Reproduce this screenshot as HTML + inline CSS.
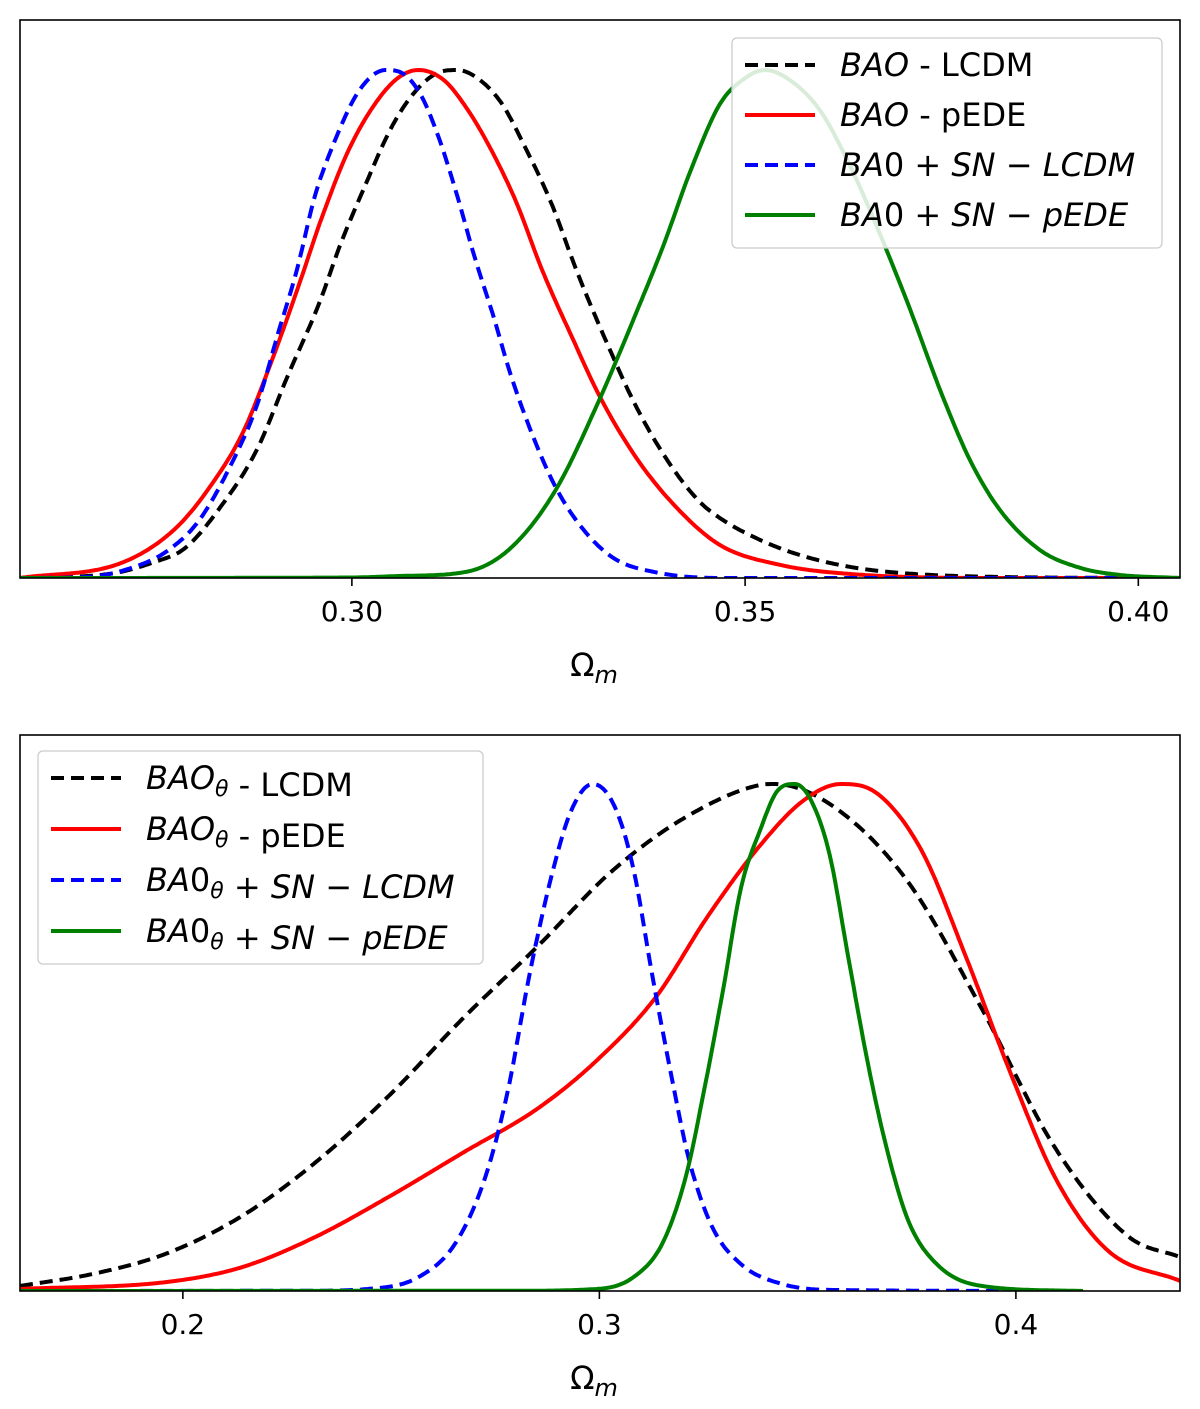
<!DOCTYPE html>
<html><head><meta charset="utf-8"><style>
body{margin:0;background:#fff;}
svg{display:block;font-family:"DejaVu Sans","Liberation Sans",sans-serif;}
</style></head><body>
<svg id="chart" width="1200" height="1409" viewBox="0 0 1200 1409"></svg>
<script>
// ---------- TOP PANEL DATA ----------
const topTicks = [0.30, 0.35, 0.40];
const topTickLabels = ["0.30", "0.35", "0.40"];
const topBlackX = [0.2578,0.2691,0.2748,0.2788,0.2833,0.2879,0.2919,0.2958,0.2986,0.3015,0.3050,0.3078,0.3106,0.3134,0.3163,0.3191,0.3219,0.3253,0.3287,0.3327,0.3361,0.3401,0.3441,0.3468,0.3519,0.3570,0.3633,0.3697,0.3824,0.4053];
const topBlackY = [0,0.008,0.031,0.059,0.140,0.252,0.400,0.539,0.659,0.766,0.886,0.953,0.992,1.0,0.980,0.933,0.852,0.740,0.600,0.453,0.339,0.232,0.152,0.118,0.075,0.045,0.022,0.010,0.002,0];
const topRedX = [0.2578,0.2709,0.2776,0.2822,0.2861,0.2896,0.2930,0.2964,0.2997,0.3032,0.3060,0.3085,0.3117,0.3145,0.3174,0.3209,0.3242,0.3282,0.3315,0.3361,0.3412,0.3468,0.3544,0.3633,0.3824,0.4053];
const topRedY = [0,0.031,0.098,0.185,0.285,0.419,0.565,0.719,0.846,0.939,0.986,1.0,0.980,0.927,0.852,0.740,0.606,0.467,0.358,0.238,0.140,0.065,0.026,0.008,0,0];
const topBlueX = [0.2578,0.2663,0.2720,0.2765,0.2805,0.2845,0.2879,0.2907,0.2930,0.2953,0.2976,0.3009,0.3043,0.3066,0.3089,0.3112,0.3134,0.3156,0.3179,0.3202,0.3230,0.3259,0.3293,0.3333,0.3384,0.3468,0.4053];
const topBlueY = [0,0.002,0.020,0.053,0.112,0.219,0.339,0.486,0.606,0.752,0.852,0.959,1.0,0.992,0.947,0.860,0.752,0.632,0.520,0.400,0.280,0.179,0.098,0.039,0.012,0,0];
const topGreenX = [0.2578,0.3000,0.3061,0.3145,0.3202,0.3259,0.3315,0.3361,0.3396,0.3430,0.3468,0.3500,0.3525,0.3557,0.3595,0.3633,0.3672,0.3710,0.3748,0.3786,0.3824,0.3875,0.3926,0.3977,0.4053];
const topGreenY = [0,0.001,0.004,0.012,0.059,0.173,0.352,0.520,0.654,0.799,0.933,0.984,1.0,0.980,0.921,0.813,0.675,0.528,0.370,0.232,0.134,0.055,0.020,0.006,0];

// ---------- BOTTOM PANEL DATA ----------
const botTicks = [0.2, 0.3, 0.4];
const botTickLabels = ["0.2", "0.3", "0.4"];
const botBlackX = [0.1609,0.1786,0.1964,0.2142,0.2319,0.2497,0.2675,0.2852,0.3030,0.3208,0.3385,0.3419,0.3563,0.3741,0.3916,0.4096,0.4271,0.4394];
const botBlackY = [0.010,0.034,0.075,0.148,0.254,0.387,0.540,0.680,0.828,0.935,0.998,1.0,0.955,0.807,0.560,0.280,0.107,0.067];
const botRedX = [0.1609,0.1964,0.2142,0.2319,0.2497,0.2675,0.2852,0.2994,0.3136,0.3261,0.3385,0.3491,0.3580,0.3669,0.3774,0.3882,0.3988,0.4096,0.4219,0.4394];
const botRedY = [0.004,0.018,0.047,0.107,0.187,0.274,0.360,0.455,0.580,0.740,0.878,0.968,1.0,0.980,0.868,0.655,0.428,0.221,0.081,0.020];
const botBlueX = [0.1609,0.2300,0.2444,0.2567,0.2655,0.2727,0.2780,0.2833,0.2888,0.2932,0.2984,0.3037,0.3083,0.3126,0.3172,0.3215,0.3270,0.3340,0.3438,0.3563,0.4161];
const botBlueY = [0,0.0005,0.004,0.028,0.095,0.227,0.394,0.627,0.828,0.947,1.0,0.955,0.828,0.627,0.428,0.260,0.128,0.053,0.014,0.002,0];
const botGreenX = [0.1609,0.2800,0.2994,0.3083,0.3152,0.3208,0.3251,0.3297,0.3340,0.3385,0.3429,0.3469,0.3508,0.3553,0.3597,0.3642,0.3686,0.3741,0.3810,0.3918,0.4161];
const botGreenY = [0,0.0005,0.004,0.028,0.095,0.227,0.394,0.594,0.795,0.907,0.988,1.0,0.968,0.860,0.661,0.460,0.294,0.140,0.053,0.010,0];

const NS = "http://www.w3.org/2000/svg";
const svg = document.getElementById('chart');
function mk(tag, attrs, parent){
  const e = document.createElementNS(NS, tag);
  for (const k in attrs) e.setAttribute(k, attrs[k]);
  (parent||svg).appendChild(e);
  return e;
}
function monoPath(xs, ys, sx, sy){
  const n = xs.length, d = [], m = [];
  for (let i=0;i<n-1;i++) d.push((ys[i+1]-ys[i])/(xs[i+1]-xs[i]));
  m[0]=d[0]; m[n-1]=d[n-2];
  for (let i=1;i<n-1;i++) m[i] = (d[i-1]*d[i]<=0) ? 0 : (d[i-1]+d[i])/2;
  for (let i=0;i<n-1;i++){
    if (d[i]===0){ m[i]=0; m[i+1]=0; continue; }
    const a=m[i]/d[i], b=m[i+1]/d[i], s=a*a+b*b;
    if (s>9){ const t=3/Math.sqrt(s); m[i]=t*a*d[i]; m[i+1]=t*b*d[i]; }
  }
  let out = "M"+sx(xs[0]).toFixed(1)+","+sy(ys[0]).toFixed(1);
  for (let i=0;i<n-1;i++){
    const h = xs[i+1]-xs[i];
    const steps = Math.max(2, Math.ceil((sx(xs[i+1])-sx(xs[i]))/2));
    for (let k=1;k<=steps;k++){
      const t=k/steps, t2=t*t, t3=t2*t;
      const y = (2*t3-3*t2+1)*ys[i] + (t3-2*t2+t)*h*m[i] + (-2*t3+3*t2)*ys[i+1] + (t3-t2)*h*m[i+1];
      out += " L"+sx(xs[i]+t*h).toFixed(1)+","+sy(y).toFixed(1);
    }
  }
  return out;
}

function panel(cfg){
  const g = mk('g', {});
  
  
  const sx = v => cfg.left + (v - cfg.xmin) / (cfg.xmax - cfg.xmin) * (cfg.right - cfg.left);
  const sy = v => cfg.base - v * cfg.h;
  const clipId = cfg.name + '-clip';
  const defs = mk('defs', {}, g);
  const cp = mk('clipPath', {id: clipId}, defs);
  mk('rect', {x: cfg.left, y: cfg.top, width: cfg.right-cfg.left, height: cfg.bottom-cfg.top}, cp);
  const series = cfg.series;
  series.forEach(s => {
    const p = mk('path', {d: monoPath(s.x, s.y, sx, sy), fill:'none', stroke:s.color, 'stroke-width':4, 'stroke-linejoin':'round', 'clip-path':'url(#'+clipId+')'}, g);
    if (s.dash) p.setAttribute('stroke-dasharray', '13,7');
    
    
  });
  const frame = mk('rect', {x: cfg.left, y: cfg.top, width: cfg.right-cfg.left, height: cfg.bottom-cfg.top, fill:'none', stroke:'#000', 'stroke-width':1.6}, g);
  
  
  cfg.ticks.forEach((t,i)=>{
    const x = sx(t);
    const tk = mk('line', {x1:x, x2:x, y1:cfg.bottom, y2:cfg.bottom+8, stroke:'#000','stroke-width':1.6}, g);
    
    
    const tl = mk('text', {x:x, y:cfg.bottom+43, 'text-anchor':'middle','font-size':28, fill:'#000'}, g);
    tl.textContent = cfg.tickLabels[i];
    
    
  });
  const xl = mk('text', {x:(cfg.left+cfg.right)/2 - 6, y:cfg.bottom+98, 'text-anchor':'middle','font-size':32, fill:'#000'}, g);
  xl.innerHTML = 'Ω<tspan font-style="italic" font-size="24" dy="7">m</tspan>';
  
  
  const L = cfg.legend;
  const lg = mk('g', {}, g);
  
  
  mk('rect', {x:L.x, y:L.y, width:L.w, height:L.h, rx:5, fill:'#fff', 'fill-opacity':0.85, stroke:'#ccc','stroke-width':1.3}, lg);
  series.forEach((s,i)=>{
    const yy = L.y + 27 + i*L.step;
    const ent = mk('g', {}, lg);
    
    
    const ln = mk('line', {x1:L.x+13, x2:L.x+83, y1:yy, y2:yy, stroke:s.color,'stroke-width':4}, ent);
    if (s.dash) ln.setAttribute('stroke-dasharray','13,7');
    const tx = mk('text', {x:L.x+108, y:yy+11, 'font-size':32, fill:'#000'}, ent);
    tx.innerHTML = s.label;
  });
}

const th = '<tspan font-style="italic" font-size="22" dy="7">θ</tspan><tspan dy="-7"></tspan>';
panel({name:'top-panel', left:20, right:1180, top:20, bottom:578, base:578, h:508, xmin:0.2578, xmax:0.4053,
  ticks:topTicks, tickLabels:topTickLabels,
  legend:{x:732,y:38,w:430,h:210,step:50},
  series:[
    {id:'bao-lcdm-curve', x:topBlackX, y:topBlackY, color:'#000', dash:true, label:'<tspan font-style="italic">BAO</tspan> - LCDM'},
    {id:'bao-pede-curve', x:topRedX, y:topRedY, color:'#ff0000', dash:false, label:'<tspan font-style="italic">BAO</tspan> - pEDE'},
    {id:'bao-sn-lcdm-curve', x:topBlueX, y:topBlueY, color:'#0000ff', dash:true, label:'<tspan font-style="italic">BA</tspan>0 + <tspan font-style="italic">SN</tspan> − <tspan font-style="italic">LCDM</tspan>'},
    {id:'bao-sn-pede-curve', x:topGreenX, y:topGreenY, color:'#008000', dash:false, label:'<tspan font-style="italic">BA</tspan>0 + <tspan font-style="italic">SN</tspan> − <tspan font-style="italic">pEDE</tspan>'}
  ]});
panel({name:'bottom-panel', left:20, right:1180, top:735, bottom:1291, base:1291, h:507, xmin:0.1609, xmax:0.4394,
  ticks:botTicks, tickLabels:botTickLabels,
  legend:{x:38,y:751,w:445,h:213,step:51},
  series:[
    {id:'bao-theta-lcdm-curve', x:botBlackX, y:botBlackY, color:'#000', dash:true, label:'<tspan font-style="italic">BAO</tspan>'+th+' - LCDM'},
    {id:'bao-theta-pede-curve', x:botRedX, y:botRedY, color:'#ff0000', dash:false, label:'<tspan font-style="italic">BAO</tspan>'+th+' - pEDE'},
    {id:'bao-theta-sn-lcdm-curve', x:botBlueX, y:botBlueY, color:'#0000ff', dash:true, label:'<tspan font-style="italic">BA</tspan>0'+th+' + <tspan font-style="italic">SN</tspan> − <tspan font-style="italic">LCDM</tspan>'},
    {id:'bao-theta-sn-pede-curve', x:botGreenX, y:botGreenY, color:'#008000', dash:false, label:'<tspan font-style="italic">BA</tspan>0'+th+' + <tspan font-style="italic">SN</tspan> − <tspan font-style="italic">pEDE</tspan>'}
  ]});
</script>
</body></html>
